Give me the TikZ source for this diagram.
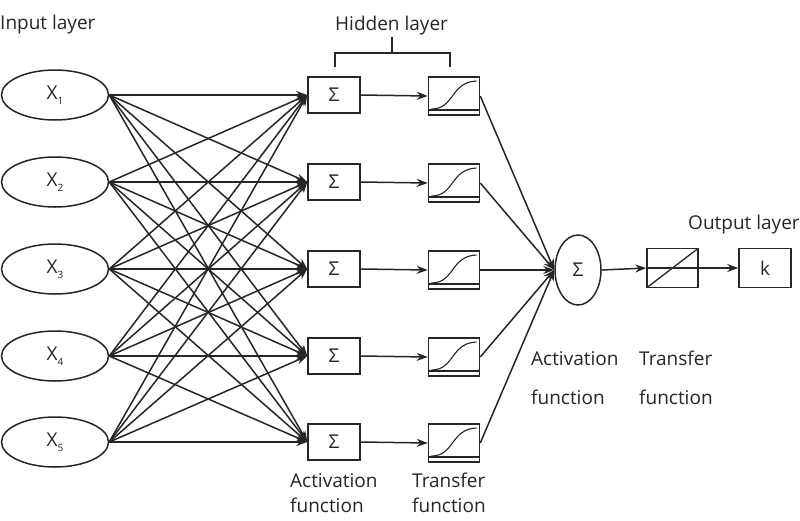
\documentclass[tikz,border=0pt]{standalone}
\usepackage{fontspec}
\setmainfont{Open Sans}
\usetikzlibrary{arrows.meta,shapes.geometric}
\definecolor{ink}{HTML}{262626}
\begin{document}
\begin{tikzpicture}[x=1pt,y=-1pt,
  font=\fontsize{19}{21}\selectfont,
  ln/.style={draw=ink,line width=1.5pt},
  arr/.style={ln,-{Stealth[length=11pt,width=8pt]}},
  inode/.style={ellipse,ln,minimum width=107pt,minimum height=50pt,inner sep=0pt,text=ink},
  sumbox/.style={rectangle,ln,minimum width=52pt,minimum height=36pt,inner sep=0pt,text=ink},
  sigbox/.style={rectangle,ln,minimum width=51pt,minimum height=38pt,inner sep=0pt,
    path picture={
      \draw[ink,line width=1.3pt] ([shift={(0pt,5pt)}]path picture bounding box.south west) -- ([shift={(0pt,5pt)}]path picture bounding box.south east);
      \draw[ink,line width=1.1pt] ([shift={(3pt,6pt)}]path picture bounding box.south west)
        .. controls ([shift={(26pt,6pt)}]path picture bounding box.south west)
        and ([shift={(22pt,33pt)}]path picture bounding box.south west)
        .. ([shift={(-3pt,-4pt)}]path picture bounding box.north east);
    }},
  linbox/.style={rectangle,ln,minimum width=51pt,minimum height=39pt,inner sep=0pt,
    path picture={
      \draw[ink,line width=1.3pt] (path picture bounding box.west) -- (path picture bounding box.east);
      \draw[ink,line width=1.3pt] (path picture bounding box.south west) -- (path picture bounding box.north east);
    }},
  lbl/.style={text=ink,inner sep=0pt,anchor=base west}
]
\useasboundingbox (0,0) rectangle (800,520);
\fill[white] (0,0) rectangle (800,520);

% input nodes
\foreach \i/\y in {1/95,2/182,3/269,4/356,5/442}{
  \node[inode] (x\i) at (55,\y) {X\raisebox{-5pt}{\fontsize{10}{10}\selectfont\i}};
  \node[sumbox] (h\i) at (334,\y) {Σ};
  \node[sigbox] (s\i) at (454,\y+1) {};
}

% input -> sum connections
\foreach \i in {1,...,5}{
  \foreach \j in {1,...,5}{
    \draw[arr] (x\i.east) -- (h\j.west);
  }
}
% sum -> sigmoid
\foreach \i in {1,...,5}{
  \draw[arr] (h\i.east) -- (s\i.west);
}

% output part
\node[ellipse,ln,minimum width=46pt,minimum height=70pt,inner sep=0pt,text=ink] (o) at (578,270) {Σ};
\foreach \i in {1,...,5}{
  \draw[arr] (s\i.east) -- (o.west);
}
\node[linbox] (t) at (672.5,268) {};
\node[sumbox,minimum width=52pt,minimum height=39pt] (k) at (765,268) {k};
\draw[arr] (o.east) -- (t.west);
\draw[arr] (t.east) -- (k.west);

% brace over hidden layer
\coordinate (bl) at (335,67);
\coordinate (br) at (450,67);
\coordinate (bm) at (392,37);
\draw[ln] (bl) -- (335,53) -- (450,53) -- (br);
\draw[ln] (392,53) -- (bm);

% labels
\node[lbl] (tin) at (0,29) {Input layer};
\node[lbl] (thid) at (335,30) {Hidden layer};
\node[lbl] (tout) at (688,229) {Output layer};
\node[lbl] (a1) at (290,487) {Activation};
\node[lbl] (a2) at (290,512) {function};
\node[lbl] (t1) at (412,487) {Transfer};
\node[lbl] (t2) at (412,512) {function};
\node[lbl] (a3) at (531,365) {Activation};
\node[lbl] (a4) at (531,404) {function};
\node[lbl] (t3) at (639,365) {Transfer};
\node[lbl] (t4) at (639,404) {function};
\end{tikzpicture}
\end{document}
